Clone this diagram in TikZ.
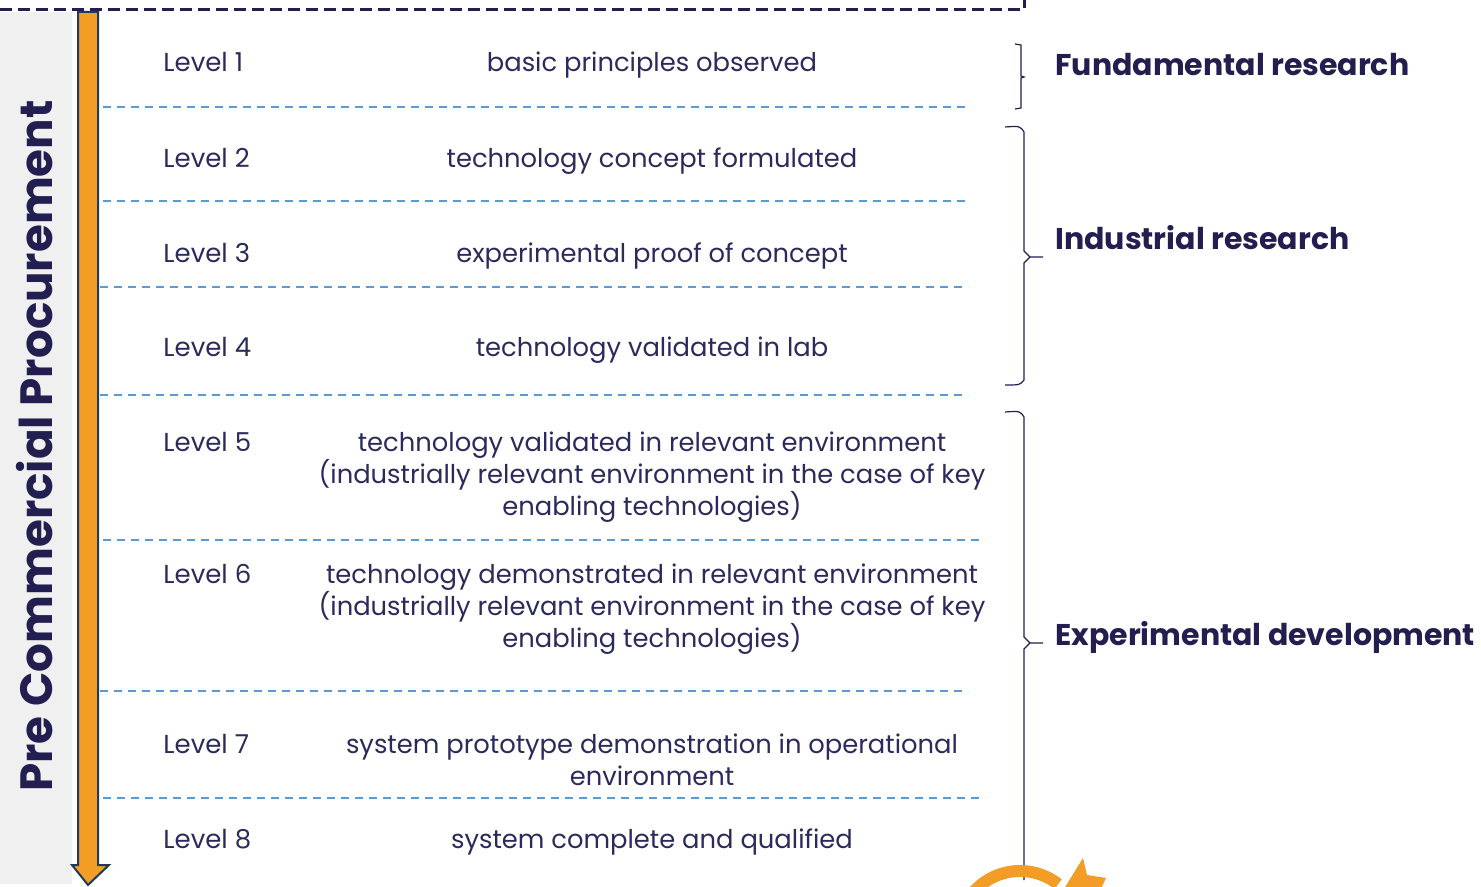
\documentclass[tikz,border=0pt]{standalone}
\usepackage{fontspec}
\setmainfont{Poppins}

\definecolor{ink}{HTML}{2B2A5C}
\definecolor{navy}{HTML}{221E50}
\definecolor{sepblue}{HTML}{5B9BD5}
\definecolor{orng}{HTML}{F39C26}
\definecolor{rim}{HTML}{1F3A5C}
\definecolor{panel}{HTML}{F0F0F0}

\begin{document}
\begin{tikzpicture}[x=0.5pt,y=-0.5pt,
  lvl/.style={anchor=west,inner sep=0pt,text=ink,font=\fontsize{13}{16}\selectfont},
  desc/.style={align=center,inner sep=0pt,yshift=-1.5pt,text=ink,font=\fontsize{12.9}{16}\selectfont},
  phase/.style={anchor=west,inner sep=0pt,text=navy,font=\fontsize{15}{18}\selectfont\bfseries},
  sep/.style={sepblue,line width=0.6pt,dash pattern=on 4pt off 3pt},
  brk/.style={navy,line width=0.6pt}]
  \useasboundingbox (0,0) rectangle (1481,887);
  \clip (0,0) rectangle (1481,887);
  % left panel and arrow
  \fill[panel] (0,12) rectangle (72,884);
  \filldraw[fill=orng,draw=rim,line width=1pt]
    (78,12) -- (98,12) -- (98,865) -- (109,865) -- (88,885) -- (72,865) -- (78,865) -- cycle;
  \node[rotate=90,text=navy,font=\fontsize{22.6}{26}\selectfont\bfseries] (pcp) at (35,446) {Pre Commercial Procurement};
  \draw[navy,line width=1.5pt,dash pattern=on 6pt off 3pt] (0,10) -- (1024,10) -- (1024,0);
  % levels
  \node[lvl] (l1) at (163,62) {Level 1};
  \node[desc] (d1) at (652,62) {basic principles observed};
  \node[lvl] (l2) at (163,158) {Level 2};
  \node[desc] (d2) at (652,158) {technology concept formulated};
  \node[lvl] (l3) at (163,253) {Level 3};
  \node[desc] (d3) at (652,253) {experimental proof of concept};
  \node[lvl] (l4) at (163,347) {Level 4};
  \node[desc] (d4) at (652,347) {technology validated in lab};
  \node[lvl] (l5) at (163,442) {Level 5};
  \node[desc] (d5) at (652,474) {technology validated in relevant environment\\(industrially relevant environment in the case of key\\enabling technologies)};
  \node[lvl] (l6) at (163,574) {Level 6};
  \node[desc] (d6) at (652,606) {technology demonstrated in relevant environment\\(industrially relevant environment in the case of key\\enabling technologies)};
  \node[lvl] (l7) at (163,744) {Level 7};
  \node[desc] (d7) at (652,757) {system prototype demonstration in operational\\environment};
  \node[lvl] (l8) at (163,839) {Level 8};
  \node[desc] (d8) at (652,839) {system complete and qualified};
  % separators
  \draw[sep] (103,107) -- (970,107);
  \draw[sep] (103,201) -- (970,201);
  \draw[sep] (100,287) -- (968,287);
  \draw[sep] (100,395) -- (968,395);
  \draw[sep] (103,540) -- (985,540);
  \draw[sep] (100,691) -- (968,691);
  \draw[sep] (103,798) -- (985,798);
  % phases
  \node[phase] (fund) at (1055,65) {Fundamental research};
  \node[phase] (ind) at (1055,238) {Industrial research};
  \node[phase] (expd) at (1055,637) {Experimental development};
  \draw[brk] (1015,44) -- (1021,45) -- (1021,76) -- (1024,77) -- (1021,78) -- (1021,108) -- (1015,109);
  \draw[brk] (1005,127) .. controls (1020,126) .. (1024,132) -- (1024,251) -- (1030,257) -- (1043,257)
    (1030,257) -- (1024,263) -- (1024,380) .. controls (1020,385) .. (1005,385);
  \draw[brk] (1005,412) .. controls (1020,411) .. (1024,417) -- (1024,637) -- (1030,643) -- (1043,643)
    (1030,643) -- (1024,649) -- (1024,880);
  % cycle arrow
  \draw[orng,line width=6pt] (1020,933) ++(-160:62) arc[start angle=-160,end angle=-52,radius=62];
  \fill[orng] (1062,892) -- (1083,858) -- (1087,875) -- (1106,878) -- (1098,895) -- cycle;
\end{tikzpicture}
\end{document}
